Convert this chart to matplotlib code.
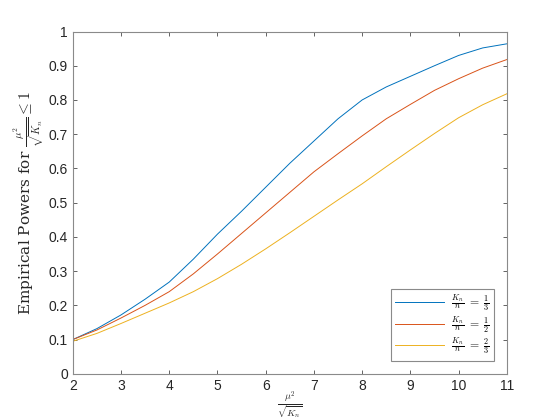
import matplotlib
matplotlib.use("Agg")
import matplotlib.pyplot as plt

plt.rcParams["mathtext.fontset"] = "cm"
plt.rcParams["font.family"] = ["Liberation Sans", "DejaVu Sans"]

# mu^2 / sqrt(K_n)
x = [2, 2.5, 3, 3.5, 4, 4.5, 5, 5.5, 6, 6.5, 7, 7.5, 8, 8.5, 9, 9.5, 10, 10.5, 11]

# empirical powers, one list per K_n / n ratio
power_third = [0.100, 0.132, 0.172, 0.218, 0.268, 0.335, 0.408, 0.475, 0.545, 0.615,
               0.680, 0.745, 0.800, 0.838, 0.869, 0.900, 0.930, 0.952, 0.964]
power_half = [0.100, 0.128, 0.163, 0.200, 0.240, 0.292, 0.350, 0.410, 0.470, 0.530,
              0.590, 0.643, 0.695, 0.745, 0.787, 0.828, 0.862, 0.893, 0.918]
power_two_thirds = [0.095, 0.118, 0.147, 0.177, 0.207, 0.240, 0.278, 0.320, 0.365, 0.412,
                    0.460, 0.508, 0.555, 0.605, 0.654, 0.702, 0.748, 0.786, 0.818]

labels = [r"$\frac{K_n}{n}\ =\ \frac{1}{3}$",
          r"$\frac{K_n}{n}\ =\ \frac{1}{2}$",
          r"$\frac{K_n}{n}\ =\ \frac{2}{3}$"]
colors = ["#0072BD", "#D95319", "#EDB120"]

fig = plt.figure(figsize=(5.6, 4.2), dpi=100)
ax = fig.add_axes([0.13, 0.11, 0.775, 0.815])

for ys, lab, c in zip([power_third, power_half, power_two_thirds], labels, colors):
    ax.plot(x, ys, color=c, linewidth=0.7, label=lab)

ax.set_xlim(2, 11)
ax.set_ylim(0, 1)
ax.set_xticks(range(2, 12))
ax.set_yticks([i / 10 for i in range(11)])
ax.set_yticklabels(["0"] + [f"{i/10:g}" for i in range(1, 10)] + ["1"])

C_AX = "#262626"
ax.tick_params(direction="in", length=3, width=0.5, colors=C_AX, labelsize=10,
               top=True, right=True)
for sp in ax.spines.values():
    sp.set_color("#8a8a8a")
    sp.set_linewidth(0.8)

ax.set_ylabel(r"Empirical Powers for $\frac{\mu^2}{\sqrt{K_n}} \leq 1$",
              fontfamily="DejaVu Serif", fontsize=11, color=C_AX, labelpad=1)
ax.set_xlabel(r"$\frac{\mu^2}{\sqrt{K_n}}$", fontsize=10, color=C_AX, va="top")
ax.xaxis.set_label_coords(0.5, -0.045)

leg = ax.legend(loc="lower right", fontsize=8.5, fancybox=False, framealpha=1,
                edgecolor="#8a8a8a", handlelength=4.2, borderaxespad=1.1,
                labelspacing=0.05, borderpad=0.3, handletextpad=0.6)
leg.get_frame().set_linewidth(0.8)

fig.savefig("out.png", dpi=100)
